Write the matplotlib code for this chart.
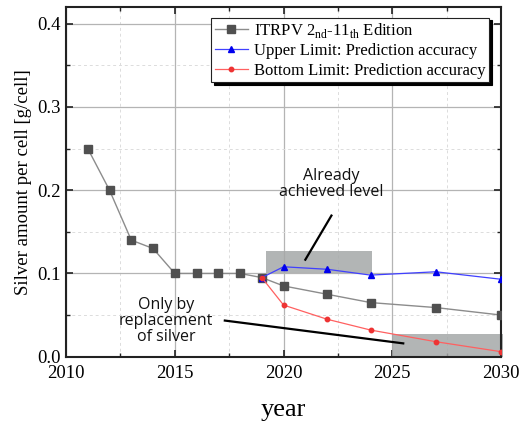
import matplotlib
matplotlib.use("Agg")
import matplotlib.pyplot as plt
from matplotlib.ticker import MultipleLocator, FormatStrFormatter
from matplotlib.patches import Rectangle

plt.rcParams['font.family'] = 'Liberation Serif'
plt.rcParams['mathtext.fontset'] = 'custom'
plt.rcParams['mathtext.rm'] = 'Liberation Serif'

# ITRPV roadmap values (g/cell)
itrpv_years = [2011, 2012, 2013, 2014, 2015, 2016, 2017, 2018, 2019, 2020, 2022, 2024, 2027, 2030]
itrpv_silver = [0.25, 0.20, 0.14, 0.13, 0.10, 0.10, 0.10, 0.10, 0.095, 0.085, 0.075, 0.065, 0.059, 0.050]

# Prediction accuracy bounds
limit_years = [2019, 2020, 2022, 2024, 2027, 2030]
upper_silver = [0.095, 0.108, 0.105, 0.098, 0.102, 0.093]
bottom_silver = [0.095, 0.062, 0.045, 0.032, 0.018, 0.006]

fig = plt.figure(figsize=(5.23, 4.28), dpi=100)
ax = fig.add_axes([0.1262, 0.1666, 0.832, 0.817])

ax.set_xlim(2010, 2030)
ax.set_ylim(0, 0.42)
ax.xaxis.set_major_locator(MultipleLocator(5))
ax.xaxis.set_minor_locator(MultipleLocator(2.5))
ax.yaxis.set_major_locator(MultipleLocator(0.1))
ax.yaxis.set_minor_locator(MultipleLocator(0.05))
ax.yaxis.set_major_formatter(FormatStrFormatter('%.1f'))

ax.grid(which='major', color='#b4b4b4', lw=0.9, ls='-')
ax.grid(which='minor', color='#dcdcdc', lw=0.7, ls=(0, (3, 3)))
ax.set_axisbelow(True)

ax.tick_params(which='both', direction='in', top=True, right=True, labelsize=13.5, color='#222222')
ax.tick_params(which='major', length=5, width=1.2)
ax.tick_params(which='minor', length=3, width=1.0)
ax.tick_params(axis='x', pad=6)
for s in ax.spines.values():
    s.set_linewidth(1.5)
    s.set_color('#222222')

# shaded target regions
ax.add_patch(Rectangle((2019.2, 0.100), 4.85, 0.027, facecolor='#a5a8a8', alpha=0.85, edgecolor='none', zorder=1.5))
ax.add_patch(Rectangle((2025.0, 0.0), 5.1, 0.0275, facecolor='#a5a8a8', alpha=0.85, edgecolor='none', zorder=1.5, clip_on=False))

ax.plot(itrpv_years, itrpv_silver, color='#8c8c8c', lw=1.0, marker='s', ms=6,
        mfc='#505050', mec='#505050', label='ITRPV 2$_{\\mathrm{nd}}$-11$_{\\mathrm{th}}$ Edition', zorder=3)
ax.plot(limit_years, upper_silver, color='#4040ff', lw=0.9, marker='^', ms=4,
        mfc='#0000ee', mec='#0000ee', label='Upper Limit: Prediction accuracy', zorder=3)
ax.plot(limit_years, bottom_silver, color='#ff6060', lw=0.9, marker='o', ms=3.2,
        mfc='#ee3333', mec='#ee3333', label='Bottom Limit: Prediction accuracy', zorder=3)

ax.set_ylabel('Silver amount per cell [g/cell]', fontsize=13.5)
ax.set_xlabel('year', fontsize=19, labelpad=12)

# annotations
ax.text(2022.2, 0.208, 'Already\nachieved level', family='Open Sans', fontsize=11.5,
        ha='center', va='center', linespacing=1.0, color='#111111')
ax.plot([2022.2, 2021.0], [0.1695, 0.1165], color='black', lw=1.6, zorder=4)

ax.text(2014.6, 0.043, 'Only by\nreplacement\nof silver', family='Open Sans', fontsize=11.5,
        ha='center', va='center', linespacing=1.0, color='#111111')
ax.plot([2017.3, 2025.5], [0.0434, 0.016], color='black', lw=1.6, zorder=4)

leg = ax.legend(loc='upper right', bbox_to_anchor=(0.972, 0.97), borderaxespad=0,
                fontsize=12, frameon=True, fancybox=False, shadow={'color': 'black', 'alpha': 1},
                handlelength=2.0, handletextpad=0.35, borderpad=0.2, labelspacing=0.2)
leg.get_frame().set_edgecolor('#222222')
leg.get_frame().set_linewidth(0.8)

fig.savefig('out.png', dpi=100)
